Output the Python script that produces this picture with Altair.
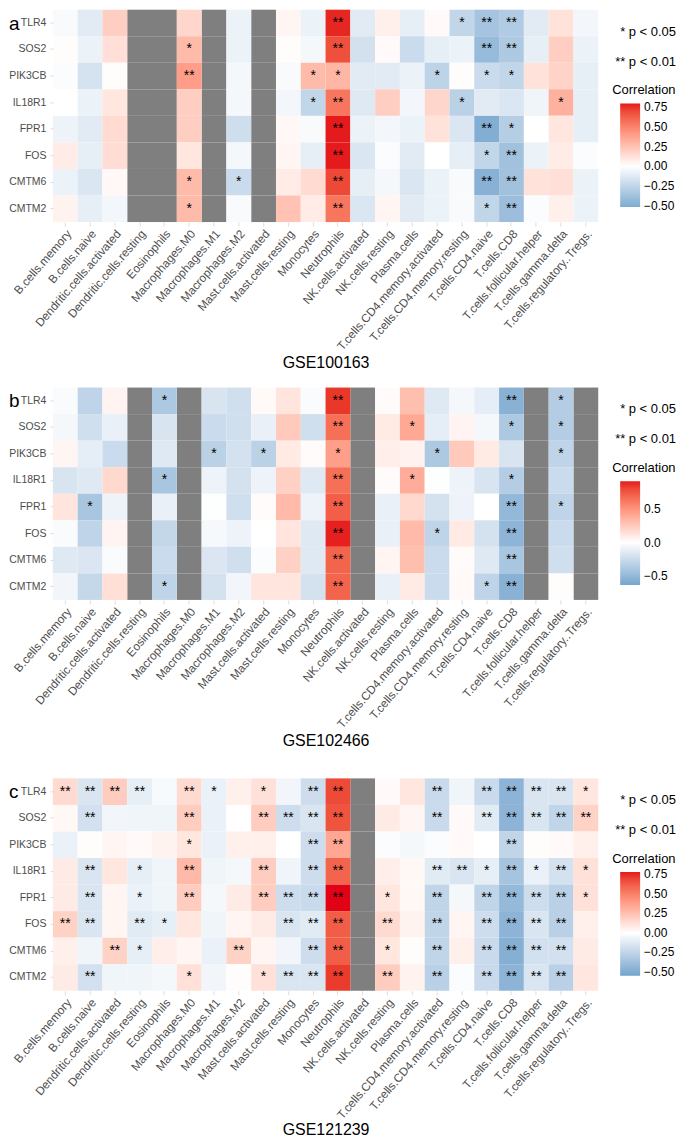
import altair as alt
import pandas as pd

genes = ["TLR4", "SOS2", "PIK3CB", "IL18R1", "FPR1", "FOS", "CMTM6", "CMTM2"]
cells = ["B.cells.memory", "B.cells.naive", "Dendritic.cells.activated", "Dendritic.cells.resting",
         "Eosinophils", "Macrophages.M0", "Macrophages.M1", "Macrophages.M2", "Mast.cells.activated",
         "Mast.cells.resting", "Monocytes", "Neutrophils", "NK.cells.activated", "NK.cells.resting",
         "Plasma.cells", "T.cells.CD4.memory.activated", "T.cells.CD4.memory.resting", "T.cells.CD4.naive",
         "T.cells.CD8", "T.cells.follicular.helper", "T.cells.gamma.delta", "T.cells.regulatory..Tregs."]

N = None
# ---- GSE100163 (panel a) correlation values, rows follow `genes`
a_r = [
    [-0.03, -0.12, 0.20, N, N, 0.17, N, -0.08, N, 0.04, -0.08, 0.78, -0.12, 0.06, -0.10, 0.02, -0.25, -0.36, -0.32, -0.12, 0.12, -0.05],
    [0.01, -0.08, 0.13, N, N, 0.28, N, -0.08, N, 0.01, -0.04, 0.68, -0.18, 0.02, -0.22, -0.10, -0.08, -0.42, -0.33, -0.10, 0.20, -0.08],
    [-0.02, -0.17, 0.01, N, N, 0.40, N, -0.04, N, -0.03, 0.28, 0.30, -0.12, -0.12, -0.08, -0.27, 0.01, -0.22, -0.25, 0.12, 0.18, -0.10],
    [0.00, -0.08, 0.10, N, N, 0.20, N, -0.04, N, -0.05, -0.25, 0.55, -0.13, 0.20, -0.05, 0.17, -0.28, -0.12, -0.15, -0.06, 0.32, -0.10],
    [-0.07, -0.12, 0.15, N, N, 0.20, N, -0.20, N, 0.03, -0.03, 0.80, -0.08, -0.05, -0.08, 0.12, -0.15, -0.50, -0.30, 0.00, 0.10, -0.10],
    [0.08, -0.10, 0.14, N, N, 0.10, N, -0.04, N, 0.04, -0.10, 0.80, -0.15, -0.02, -0.12, 0.00, -0.10, -0.25, -0.38, -0.08, 0.08, -0.02],
    [-0.08, -0.15, 0.03, N, N, 0.28, N, -0.22, N, 0.08, 0.15, 0.70, -0.10, -0.04, -0.15, -0.08, -0.03, -0.48, -0.38, 0.12, 0.13, -0.08],
    [0.05, -0.10, -0.05, N, N, 0.28, N, -0.03, N, 0.25, 0.08, 0.55, -0.15, 0.04, -0.12, -0.08, -0.03, -0.25, -0.40, -0.02, 0.06, -0.08],
]
# significance level: 1 -> *, 2 -> **
a_sig = [
    [0, 0, 0, 0, 0, 0, 0, 0, 0, 0, 0, 2, 0, 0, 0, 0, 1, 2, 2, 0, 0, 0],
    [0, 0, 0, 0, 0, 1, 0, 0, 0, 0, 0, 2, 0, 0, 0, 0, 0, 2, 2, 0, 0, 0],
    [0, 0, 0, 0, 0, 2, 0, 0, 0, 0, 1, 1, 0, 0, 0, 1, 0, 1, 1, 0, 0, 0],
    [0, 0, 0, 0, 0, 0, 0, 0, 0, 0, 1, 2, 0, 0, 0, 0, 1, 0, 0, 0, 1, 0],
    [0, 0, 0, 0, 0, 0, 0, 0, 0, 0, 0, 2, 0, 0, 0, 0, 0, 2, 1, 0, 0, 0],
    [0, 0, 0, 0, 0, 0, 0, 0, 0, 0, 0, 2, 0, 0, 0, 0, 0, 1, 2, 0, 0, 0],
    [0, 0, 0, 0, 0, 1, 0, 1, 0, 0, 0, 2, 0, 0, 0, 0, 0, 2, 2, 0, 0, 0],
    [0, 0, 0, 0, 0, 1, 0, 0, 0, 0, 0, 2, 0, 0, 0, 0, 0, 1, 2, 0, 0, 0],
]

# ---- GSE102466 (panel b)
b_r = [
    [-0.03, -0.30, 0.05, N, -0.38, N, -0.18, -0.22, 0.03, 0.12, -0.03, 0.85, N, 0.02, 0.30, -0.15, -0.05, -0.12, -0.55, N, -0.35, N],
    [-0.05, -0.22, -0.10, N, -0.18, N, -0.25, -0.22, -0.10, 0.25, -0.22, 0.65, N, 0.10, 0.40, -0.12, 0.05, -0.05, -0.38, N, -0.35, N],
    [0.04, -0.12, -0.25, N, -0.15, N, -0.32, -0.20, -0.32, 0.10, 0.02, 0.45, N, 0.08, 0.06, -0.38, 0.25, 0.10, -0.18, N, -0.30, N],
    [-0.18, -0.15, 0.18, N, -0.40, N, -0.08, -0.20, -0.08, 0.22, -0.15, 0.65, N, 0.02, 0.38, -0.01, -0.08, -0.18, -0.35, N, -0.25, N],
    [0.12, -0.40, -0.08, N, -0.10, N, -0.01, -0.22, 0.02, 0.32, -0.08, 0.72, N, -0.10, 0.18, -0.20, -0.08, 0.00, -0.50, N, -0.30, N],
    [-0.03, -0.30, 0.05, N, -0.28, N, -0.04, -0.08, 0.00, 0.12, -0.15, 0.90, N, -0.10, 0.32, -0.30, 0.10, -0.20, -0.52, N, -0.25, N],
    [-0.15, -0.17, -0.03, N, -0.25, N, -0.17, -0.22, -0.02, 0.22, -0.15, 0.70, N, 0.04, 0.30, -0.25, 0.02, -0.15, -0.40, N, -0.22, N],
    [-0.06, -0.27, 0.15, N, -0.30, N, -0.20, -0.06, 0.12, 0.12, -0.20, 0.70, N, -0.10, 0.10, -0.25, 0.03, -0.30, -0.55, N, 0.01, N],
]
b_sig = [
    [0, 0, 0, 0, 1, 0, 0, 0, 0, 0, 0, 2, 0, 0, 0, 0, 0, 0, 2, 0, 1, 0],
    [0, 0, 0, 0, 0, 0, 0, 0, 0, 0, 0, 2, 0, 0, 1, 0, 0, 0, 1, 0, 1, 0],
    [0, 0, 0, 0, 0, 0, 1, 0, 1, 0, 0, 1, 0, 0, 0, 1, 0, 0, 0, 0, 1, 0],
    [0, 0, 0, 0, 1, 0, 0, 0, 0, 0, 0, 2, 0, 0, 1, 0, 0, 0, 1, 0, 0, 0],
    [0, 1, 0, 0, 0, 0, 0, 0, 0, 0, 0, 2, 0, 0, 0, 0, 0, 0, 2, 0, 1, 0],
    [0, 0, 0, 0, 0, 0, 0, 0, 0, 0, 0, 2, 0, 0, 0, 1, 0, 0, 2, 0, 0, 0],
    [0, 0, 0, 0, 0, 0, 0, 0, 0, 0, 0, 2, 0, 0, 0, 0, 0, 0, 2, 0, 0, 0],
    [0, 0, 0, 0, 1, 0, 0, 0, 0, 0, 0, 2, 0, 0, 0, 0, 0, 1, 2, 0, 0, 0],
]

# ---- GSE121239 (panel c)
c_r = [
    [0.15, -0.15, 0.20, -0.10, -0.03, 0.15, -0.08, 0.06, 0.12, -0.05, -0.20, 0.68, N, 0.02, 0.10, -0.22, -0.06, -0.22, -0.45, -0.15, -0.15, 0.10],
    [0.03, -0.18, -0.05, -0.06, -0.06, 0.20, -0.08, 0.00, 0.20, -0.20, -0.15, 0.65, N, 0.08, 0.04, -0.22, 0.02, -0.12, -0.45, -0.15, -0.25, 0.18],
    [-0.08, 0.01, 0.04, 0.02, 0.05, 0.10, -0.08, 0.06, 0.06, 0.00, -0.20, 0.35, N, -0.02, -0.04, -0.02, 0.02, 0.00, -0.25, 0.01, 0.02, 0.06],
    [0.08, -0.15, 0.10, -0.10, -0.06, 0.28, -0.06, -0.04, 0.20, -0.06, -0.20, 0.60, N, 0.07, 0.03, -0.12, -0.15, -0.10, -0.35, -0.08, -0.17, 0.12],
    [0.08, -0.15, 0.04, -0.08, -0.06, 0.20, -0.04, 0.08, 0.20, -0.20, -0.22, 0.80, N, 0.10, 0.03, -0.25, -0.04, -0.25, -0.42, -0.20, -0.28, 0.12],
    [0.18, -0.15, 0.04, -0.12, -0.10, 0.10, -0.06, 0.04, 0.08, -0.15, -0.12, 0.62, N, 0.15, 0.05, -0.25, 0.04, -0.20, -0.45, -0.15, -0.28, 0.06],
    [0.06, -0.06, 0.18, -0.10, 0.07, 0.04, -0.08, 0.18, 0.04, -0.05, -0.20, 0.62, N, 0.10, 0.01, -0.25, 0.06, -0.22, -0.48, -0.18, -0.18, 0.08],
    [0.08, -0.18, -0.06, -0.06, -0.04, 0.12, -0.05, 0.01, 0.12, -0.15, -0.15, 0.72, N, 0.20, 0.05, -0.28, -0.02, -0.22, -0.45, -0.15, -0.28, 0.10],
]
c_sig = [
    [2, 2, 2, 2, 0, 2, 1, 0, 1, 0, 2, 2, 0, 0, 0, 2, 0, 2, 2, 2, 2, 1],
    [0, 2, 0, 0, 0, 2, 0, 0, 2, 2, 2, 2, 0, 0, 0, 2, 0, 2, 2, 2, 2, 2],
    [0, 0, 0, 0, 0, 1, 0, 0, 0, 0, 2, 2, 0, 0, 0, 0, 0, 0, 2, 0, 0, 0],
    [0, 2, 0, 1, 0, 2, 0, 0, 2, 0, 2, 2, 0, 0, 0, 2, 2, 1, 2, 1, 2, 1],
    [0, 2, 0, 1, 0, 2, 0, 0, 2, 2, 2, 2, 0, 1, 0, 2, 0, 2, 2, 2, 2, 1],
    [2, 2, 0, 2, 1, 0, 0, 0, 0, 2, 2, 2, 0, 2, 0, 2, 0, 2, 2, 2, 2, 0],
    [0, 0, 2, 1, 0, 0, 0, 2, 0, 0, 2, 2, 0, 1, 0, 2, 0, 2, 2, 2, 2, 0],
    [0, 2, 0, 0, 0, 1, 0, 0, 1, 2, 2, 2, 0, 2, 0, 2, 0, 2, 2, 2, 2, 0],
]

# legend ranges and tick labels per panel
a_lim = [-0.52, 0.80]
b_lim = [-0.63, 0.91]
c_lim = [-0.55, 0.78]
a_ticks = [-0.5, -0.25, 0, 0.25, 0.5, 0.75]
b_ticks = [-0.5, 0, 0.5]
c_ticks = [-0.5, -0.25, 0, 0.25, 0.5, 0.75]

LOW = (0x37, 0x7E, 0xB8)
HIGH = (0xE4, 0x1A, 0x1C)
FONT = "Liberation Sans"
RES = dict(color="independent", x="independent", y="independent")


def tint(rgb, t):
    c = [round(255 - t * (255 - v)) for v in rgb]
    return "#%02x%02x%02x" % tuple(c)


def note(text, x, y, size=13):
    return alt.Chart(pd.DataFrame({"t": [text]})).mark_text(
        align="left", baseline="middle", fontSize=size, font=FONT, color="black").encode(
        x=alt.value(x), y=alt.value(y), text="t:N")


def panel(letter, title, r_rows, sig_rows, lim, ticks, fmt, tpad):
    rows = []
    for g, rr, ss in zip(genes, r_rows, sig_rows):
        for c, v, s in zip(cells, rr, ss):
            rows.append({"gene": g, "cell": c, "r": v, "sig": "*" * s})
    df = pd.DataFrame(rows)
    val = df[df["r"].notna()].copy()
    na = df[df["r"].isna()][["gene", "cell"]].copy()
    sig = val[val["sig"] != ""].copy()

    m = max(abs(lim[0]), abs(lim[1]))
    rng = [tint(LOW, abs(lim[0]) / m), "#ffffff", tint(HIGH, abs(lim[1]) / m)]

    xenc = alt.X("cell:N", scale=alt.Scale(domain=cells, paddingInner=0, paddingOuter=0),
                 axis=alt.Axis(title=title, labelAngle=-49, labelAlign="right", labelBaseline="top",
                               labelFontSize=11.8, labelColor="#4d4d4d", labelFont=FONT, labelLimit=300,
                               labelPadding=2, tickSize=4, tickColor="#dddddd", domain=False,
                               titleFontSize=16, titleFont=FONT, titleFontWeight="normal",
                               titleColor="black", titlePadding=tpad))
    yenc = alt.Y("gene:N", scale=alt.Scale(domain=genes, paddingInner=0, paddingOuter=0),
                 axis=alt.Axis(title=None, labelFontSize=10.5, labelColor="#4d4d4d", labelFont=FONT,
                               tickSize=3, tickColor="#dddddd", domain=False, labelPadding=4))

    heat = alt.Chart(val).mark_rect().encode(
        x=xenc, y=yenc,
        color=alt.Color("r:Q",
                        scale=alt.Scale(domain=[lim[0], 0, lim[1]], range=rng, interpolate="lab"),
                        legend=alt.Legend(title=None, orient="none", legendX=569, legendY=94,
                                          direction="vertical", gradientLength=104, gradientThickness=20,
                                          gradientStrokeWidth=0, values=ticks,
                                          labelExpr="replace(format(datum.value, '%s'), '-', '\u2212')" % fmt,
                                          labelOverlap=False, labelFontSize=12, labelFont=FONT,
                                          labelColor="black", labelOffset=4)))
    grey = alt.Chart(na).mark_rect(color="#7f7f7f").encode(x=xenc, y=yenc)
    stars = alt.Chart(sig).mark_text(fontSize=14, font=FONT, color="black", baseline="middle").encode(
        x=xenc, y=yenc, text="sig:N")
    lab = alt.Chart(pd.DataFrame({"t": [letter]})).mark_text(
        align="left", baseline="middle", fontSize=19, font=FONT, color="black").encode(
        x=alt.value(-44), y=alt.value(14), text="t:N")
    p1 = note("* p < 0.05", 569, 22)
    p2 = note("** p < 0.01", 564, 52)
    corr = note("Correlation", 561, 81)
    return alt.layer(grey, heat, stars, lab, p1, p2, corr).properties(width=547, height=213)


pa = panel("a", "GSE100163", a_r, a_sig, a_lim, a_ticks, ".2f", 2)
pb = panel("b", "GSE102466", b_r, b_sig, b_lim, b_ticks, ".1f", 2)
pc = panel("c", "GSE121239", c_r, c_sig, c_lim, c_ticks, ".2f", 0)

top = alt.vconcat(pa, pb, spacing=17).resolve_scale(**RES)
chart = alt.vconcat(top, pc, spacing=30).resolve_scale(**RES).properties(
    padding={"left": 0, "top": 0, "right": 0, "bottom": 0}).configure_view(stroke=None)

chart.save("out.html", embed_options={"renderer": "svg", "actions": False})
